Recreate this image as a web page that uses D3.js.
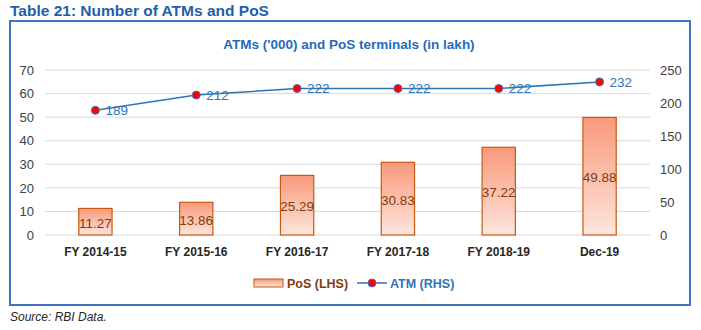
<!DOCTYPE html>
<html>
<head>
<meta charset="utf-8">
<title>Number of ATMs and PoS</title>
<script src="https://cdn.jsdelivr.net/npm/d3@7"></script>
<style>
  body { margin: 0; background: #fff; }
  svg { font-family: "Liberation Sans", Arial, sans-serif; }
</style>
</head>
<body>
<div id="chart"></div>
<script>
// data
var periods = ["FY 2014-15", "FY 2015-16", "FY 2016-17", "FY 2017-18", "FY 2018-19", "Dec-19"];
var pos = [11.27, 13.86, 25.29, 30.83, 37.22, 49.88];   // PoS terminals, lakh (LHS)
var atm = [189, 212, 222, 222, 222, 232];               // ATMs, '000 (RHS)
var leftTicks = [0, 10, 20, 30, 40, 50, 60, 70];
var rightTicks = [0, 50, 100, 150, 200, 250];

var W = 701, H = 330;
var plot = { left: 45, right: 650, top: 70, bottom: 235 };

var svg = d3.select("#chart").append("svg")
    .attr("width", W).attr("height", H);

// bar gradient
var grad = svg.append("defs").append("linearGradient")
    .attr("id", "barFill").attr("x1", 0).attr("y1", 0).attr("x2", 0).attr("y2", 1);
grad.append("stop").attr("offset", "0%").attr("stop-color", "#f9997a");
grad.append("stop").attr("offset", "100%").attr("stop-color", "#fde6dd");

// heading + box
svg.append("text")
    .attr("x", 10).attr("y", 16)
    .attr("font-size", 15.5).attr("font-weight", "bold").attr("fill", "#1f5fa8")
    .text("Table 21: Number of ATMs and PoS");

svg.append("rect")
    .attr("x", 10).attr("y", 21).attr("width", 680).attr("height", 284)
    .attr("fill", "none").attr("stroke", "#4472c4").attr("stroke-width", 2);

svg.append("text")
    .attr("x", 349).attr("y", 49).attr("text-anchor", "middle")
    .attr("font-size", 13.5).attr("font-weight", "bold").attr("fill", "#1f6cbf")
    .text("ATMs ('000) and PoS terminals (in lakh)");

// scales
var x = d3.scaleBand().domain(periods).range([plot.left, plot.right]).paddingInner(0.67).paddingOuter(0.335);
var yL = d3.scaleLinear().domain([0, 70]).range([plot.bottom, plot.top]);
var yR = d3.scaleLinear().domain([0, 250]).range([plot.bottom, plot.top]);
var xc = function (d) { return x(d) + x.bandwidth() / 2; };

// gridlines
svg.append("g").selectAll("line").data(leftTicks).join("line")
    .attr("x1", plot.left).attr("x2", plot.right)
    .attr("y1", function (d) { return yL(d); }).attr("y2", function (d) { return yL(d); })
    .attr("stroke", "#d9d9d9").attr("stroke-width", 1);

// axes
var axL = svg.append("g").attr("transform", "translate(" + plot.left + ",0)")
    .call(d3.axisLeft(yL).tickValues(leftTicks).tickSize(0).tickPadding(11));
var axR = svg.append("g").attr("transform", "translate(" + plot.right + ",0)")
    .call(d3.axisRight(yR).tickValues(rightTicks).tickSize(0).tickPadding(10));
var axB = svg.append("g").attr("transform", "translate(0," + plot.bottom + ")")
    .call(d3.axisBottom(x).tickSize(0).tickPadding(12));
[axL, axR, axB].forEach(function (g) {
  g.select(".domain").remove();
  g.selectAll("text").attr("font-family", "Liberation Sans, Arial, sans-serif")
      .attr("font-size", 13).attr("fill", "#404040");
});
axB.selectAll("text").attr("font-weight", "bold").attr("font-size", 12).attr("fill", "#262626");

// bars
svg.append("g").selectAll("rect").data(pos).join("rect")
    .attr("x", function (d, i) { return x(periods[i]); })
    .attr("y", function (d) { return yL(d); })
    .attr("width", x.bandwidth())
    .attr("height", function (d) { return yL(0) - yL(d); })
    .attr("fill", "url(#barFill)").attr("stroke", "#c55a11").attr("stroke-width", 1.2);

svg.append("g").selectAll("text").data(pos).join("text")
    .attr("x", function (d, i) { return xc(periods[i]); })
    .attr("y", function (d) { return (yL(d) + yL(0)) / 2 + 6; })
    .attr("text-anchor", "middle")
    .attr("font-size", 13.5).attr("fill", "#843c0c")
    .text(function (d) { return d.toFixed(2); });

// ATM line
var line = d3.line()
    .x(function (d, i) { return xc(periods[i]); })
    .y(function (d) { return yR(d); });
svg.append("path").datum(atm)
    .attr("d", line).attr("fill", "none")
    .attr("stroke", "#2e75b6").attr("stroke-width", 1.5);

svg.append("g").selectAll("circle").data(atm).join("circle")
    .attr("cx", function (d, i) { return xc(periods[i]); })
    .attr("cy", function (d) { return yR(d); })
    .attr("r", 4).attr("fill", "#ff0000").attr("stroke", "#4472c4").attr("stroke-width", 1);

svg.append("g").selectAll("text").data(atm).join("text")
    .attr("x", function (d, i) { return xc(periods[i]) + 10; })
    .attr("y", function (d) { return yR(d) + 5; })
    .attr("font-size", 13.5).attr("fill", "#2e75b6")
    .text(function (d) { return d; });

// legend
var lg = svg.append("g");
lg.append("rect").attr("x", 254).attr("y", 279).attr("width", 29).attr("height", 8)
    .attr("fill", "url(#barFill)").attr("stroke", "#c55a11").attr("stroke-width", 1);
lg.append("text").attr("x", 287).attr("y", 288)
    .attr("font-size", 12.5).attr("font-weight", "bold").attr("fill", "#843c0c")
    .text("PoS (LHS)");
lg.append("line").attr("x1", 357).attr("x2", 387).attr("y1", 283).attr("y2", 283)
    .attr("stroke", "#2e75b6").attr("stroke-width", 1.5);
lg.append("circle").attr("cx", 372).attr("cy", 283).attr("r", 4)
    .attr("fill", "#ff0000").attr("stroke", "#4472c4").attr("stroke-width", 1);
lg.append("text").attr("x", 390).attr("y", 288)
    .attr("font-size", 12.5).attr("font-weight", "bold").attr("fill", "#2e75b6")
    .text("ATM (RHS)");

// source
svg.append("text").attr("x", 10).attr("y", 321)
    .attr("font-size", 12).attr("font-style", "italic").attr("fill", "#262626")
    .text("Source: RBI Data.");
</script>
</body>
</html>
